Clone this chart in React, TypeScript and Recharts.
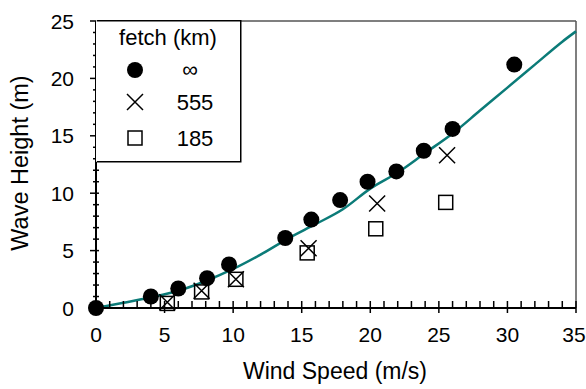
import React from 'react';
import { ComposedChart, Scatter, Line, XAxis, YAxis, ReferenceLine } from 'recharts';

const FONT = '"Liberation Sans", Arial, Helvetica, sans-serif';

// fetch = infinite
const infData = [
  { x: 0, y: 0 },
  { x: 4.0, y: 1.0 },
  { x: 6.0, y: 1.7 },
  { x: 8.1, y: 2.6 },
  { x: 9.7, y: 3.8 },
  { x: 13.8, y: 6.1 },
  { x: 15.7, y: 7.7 },
  { x: 17.8, y: 9.4 },
  { x: 19.8, y: 11.0 },
  { x: 21.9, y: 11.9 },
  { x: 23.9, y: 13.7 },
  { x: 26.0, y: 15.6 },
  { x: 30.5, y: 21.2 },
];

// fetch = 555 km
const fetch555 = [
  { x: 5.2, y: 0.5 },
  { x: 7.7, y: 1.5 },
  { x: 10.2, y: 2.5 },
  { x: 15.5, y: 5.2 },
  { x: 20.5, y: 9.1 },
  { x: 25.6, y: 13.3 },
];

// fetch = 185 km
const fetch185 = [
  { x: 5.2, y: 0.4 },
  { x: 7.7, y: 1.4 },
  { x: 10.2, y: 2.5 },
  { x: 15.4, y: 4.8 },
  { x: 20.4, y: 6.9 },
  { x: 25.5, y: 9.2 },
];

// model curve
const curveX = [0, 2, 4, 6, 8, 10, 12, 14, 16, 18, 20, 22, 24, 26, 28, 30, 32, 34, 35];
const curveY = [0, 0.45, 0.93, 1.5, 2.35, 3.4, 4.65, 6.05, 7.3, 8.6, 10.4, 11.8, 13.5, 15.2, 17.2, 19.2, 21.2, 23.2, 24.1];
const curve = curveX.map((x, i) => ({ x, y: curveY[i] }));

const xTicks = Array.from({ length: 36 }, (_, i) => i);
const yTicks = Array.from({ length: 26 }, (_, i) => i);

const TEAL = '#0b7b78';

const Dot = (p: any) => <circle cx={p.cx} cy={p.cy} r={8} fill="#000" />;
const Cross = (p: any) => (
  <path d={`M${p.cx - 8},${p.cy - 8}L${p.cx + 8},${p.cy + 8}M${p.cx - 8},${p.cy + 8}L${p.cx + 8},${p.cy - 8}`} stroke="#000" strokeWidth={1.5} fill="none" />
);
const Square = (p: any) => (
  <rect x={p.cx - 7} y={p.cy - 7} width={14} height={14} stroke="#000" strokeWidth={1.5} fill="none" />
);

const XTick = ({ x, y, payload }: any) => {
  const v = payload.value;
  const major = v % 5 === 0;
  // last label sits on the page edge, pull it in a touch
  const lx = v === 35 ? x - 2 : x;
  return (
    <g>
      <line x1={x} x2={x} y1={y - 7} y2={major ? y + 5 : y} stroke="#000" strokeWidth={1.5} />
      {major && (
        <text x={lx} y={y + 34} textAnchor="middle" fontSize={21} fontFamily={FONT} fill="#000">
          {v}
        </text>
      )}
    </g>
  );
};

const YTick = ({ x, y, payload }: any) => {
  const v = payload.value;
  const major = v % 5 === 0;
  return (
    <g>
      <line x1={major ? x - 6 : x - 3} x2={x + 3} y1={y} y2={y} stroke="#000" strokeWidth={1.5} />
      {major && (
        <text x={x - 22} y={y + 7.5} textAnchor="end" fontSize={21} fontFamily={FONT} fill="#000">
          {v}
        </text>
      )}
    </g>
  );
};

const LegendBox = () => (
  <svg width={146} height={143} style={{ position: 'absolute', left: 96, top: 20 }}>
    <rect x={0} y={0} width={145} height={142} fill="#fff" />
    <path d="M0.75,0.75H144.75V141.75H0.75" stroke="#000" strokeWidth={1.5} fill="none" />
    <text x={72} y={25} textAnchor="middle" fontSize={22} fontFamily={FONT}>fetch (km)</text>
    <circle cx={39} cy={50} r={8} fill="#000" />
    <text x={94} y={57} textAnchor="middle" fontSize={22} fontFamily={FONT}>∞</text>
    <path d="M31,74L47,90M31,90L47,74" stroke="#000" strokeWidth={1.5} />
    <text x={99} y={90} textAnchor="middle" fontSize={22} fontFamily={FONT}>555</text>
    <rect x={32} y={111} width={14} height={14} stroke="#000" strokeWidth={1.5} fill="none" />
    <text x={99} y={126} textAnchor="middle" fontSize={22} fontFamily={FONT}>185</text>
  </svg>
);

export default function App() {
  return (
    <div style={{ position: 'absolute', left: 0, top: 0, width: 586, height: 389, background: '#fff' }}>
      <ComposedChart width={586} height={389} data={curve} margin={{ top: 21, right: 10, bottom: 0, left: 0 }}>
        <XAxis
          type="number"
          dataKey="x"
          domain={[0, 35]}
          ticks={xTicks}
          interval={0}
          tick={<XTick />}
          tickLine={false}
          tickSize={0}
          tickMargin={0}
          axisLine={{ stroke: '#000', strokeWidth: 2 }}
          height={81}
        />
        <YAxis
          type="number"
          dataKey="y"
          domain={[0, 25]}
          ticks={yTicks}
          interval={0}
          tick={<YTick />}
          tickLine={false}
          tickSize={0}
          tickMargin={0}
          axisLine={{ stroke: '#000', strokeWidth: 2 }}
          width={96}
        />
        <ReferenceLine y={25} stroke="#555" strokeWidth={1.5} />
        <ReferenceLine x={35} stroke="#555" strokeWidth={1.5} />
        <Line type="monotone" dataKey="y" stroke={TEAL} strokeWidth={2.5} dot={false} isAnimationActive={false} />
        <Scatter data={infData} dataKey="y" shape={<Dot />} isAnimationActive={false} />
        <Scatter data={fetch555} dataKey="y" shape={<Cross />} isAnimationActive={false} />
        <Scatter data={fetch185} dataKey="y" shape={<Square />} isAnimationActive={false} />
      </ComposedChart>
      <LegendBox />
      <div
        style={{
          position: 'absolute',
          left: 0,
          top: 358,
          width: 670,
          textAlign: 'center',
          fontFamily: FONT,
          fontSize: 23,
          lineHeight: '26px',
          whiteSpace: 'nowrap',
        }}
      >
        Wind Speed (m/s)
      </div>
      <div
        style={{
          position: 'absolute',
          left: 20 - 100,
          top: 163 - 13,
          width: 200,
          textAlign: 'center',
          fontFamily: FONT,
          fontSize: 23.5,
          lineHeight: '26px',
          whiteSpace: 'nowrap',
          transform: 'rotate(-90deg)',
        }}
      >
        Wave Height (m)
      </div>
    </div>
  );
}
